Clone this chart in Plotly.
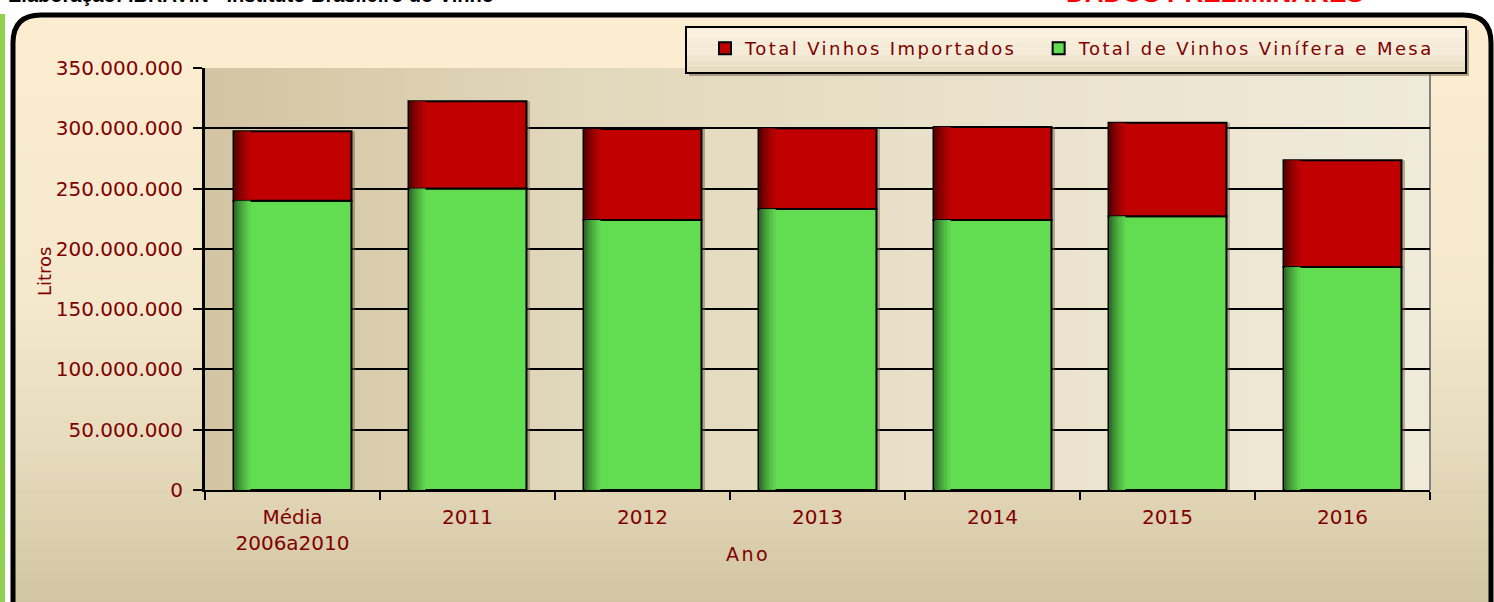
import plotly.graph_objects as go

# ---------------- data ----------------
categories = ["Média<br>2006a2010", "2011", "2012", "2013", "2014", "2015", "2016"]
vinhos_vinifera_mesa = [240_000_000, 250_000_000, 224_000_000, 233_000_000, 224_000_000, 227_000_000, 185_000_000]
vinhos_importados = [57_500_000, 72_500_000, 75_500_000, 67_000_000, 77_000_000, 77_500_000, 88_500_000]
totais = [a + b for a, b in zip(vinhos_vinifera_mesa, vinhos_importados)]

# ---------------- layout helpers ----------------
W, H = 1494, 602
L, R, T, B = 205, 1430, 68, 490
TXT = "#800000"
FONT = "DejaVu Sans"


def px(x):
    return (x - L) / (R - L)


def py(y):
    return (B - y) / (B - T)


def lerp(c1, c2, t):
    return tuple(round(a + (b - a) * t) for a, b in zip(c1, c2))


def multi_lerp(stops, v):
    for (p1, c1), (p2, c2) in zip(stops, stops[1:]):
        if v <= p2:
            return lerp(c1, c2, (v - p1) / (p2 - p1) if p2 > p1 else 0)
    return stops[-1][1]


def rgb(c):
    return "rgb(%d,%d,%d)" % c


def spaced(text, sp):
    return '<span style="letter-spacing:%.1fpx">%s</span>' % (sp, text)


shapes = []

# left green stripe
shapes.append(dict(type="rect", xref="paper", yref="paper", x0=px(0), x1=px(5), y0=py(640), y1=py(14),
                   fillcolor="#92D050", line=dict(width=0), layer="below"))

# outer rounded panel
ox0, oy0, ox1, oy1, rr = 13, 15, 1491, 650, 28


def panel_path(closed):
    p = (f"M {px(ox0)},{py(oy1)} L {px(ox0)},{py(oy0 + rr)} "
         f"Q {px(ox0)},{py(oy0)} {px(ox0 + rr)},{py(oy0)} "
         f"L {px(ox1 - rr)},{py(oy0)} Q {px(ox1)},{py(oy0)} {px(ox1)},{py(oy0 + rr)} "
         f"L {px(ox1)},{py(oy1)}")
    return p + (" Z" if closed else "")


shapes.append(dict(type="path", xref="paper", yref="paper", path=panel_path(True),
                   fillcolor="rgb(252,236,208)", line=dict(width=0), layer="below"))

outer_stops = [(60, (252, 236, 208)), (300, (244, 232, 205)), (450, (231, 219, 189)), (602, (210, 197, 162))]
step = 10
for y in range(60, 602, step):
    c = multi_lerp(outer_stops, y + step / 2)
    shapes.append(dict(type="rect", xref="paper", yref="paper", x0=px(ox0 + 2), x1=px(ox1 - 2),
                       y0=py(y + step + 0.5), y1=py(y), fillcolor=rgb(c), line=dict(width=0), layer="below"))

# plot area horizontal gradient
plot_stops = [(205, (211, 197, 162)), (600, (226, 216, 188)), (1000, (234, 226, 204)), (1430, (240, 234, 217))]
xs = 20
for x in range(L, R, xs):
    c = multi_lerp(plot_stops, x + xs / 2)
    shapes.append(dict(type="rect", xref="paper", yref="paper", x0=px(x), x1=px(min(x + xs + 0.5, R)),
                       y0=0, y1=1, fillcolor=rgb(c), line=dict(width=0), layer="below"))

# right border of plot area (grey)
shapes.append(dict(type="line", xref="paper", yref="paper", x0=1, x1=1, y0=0, y1=py(72),
                   line=dict(color="rgb(130,130,130)", width=2), layer="below"))

# outer border line
shapes.append(dict(type="path", xref="paper", yref="paper", path=panel_path(False),
                   fillcolor="rgba(0,0,0,0)", line=dict(color="black", width=5), layer="below"))

# legend box (shadow + gradient fill + border)
lx0, ly0, lx1, ly1 = 686, 27, 1466, 73
shapes.append(dict(type="rect", xref="paper", yref="paper", x0=px(lx0 + 3), x1=px(lx1 + 3),
                   y0=py(ly1 + 3), y1=py(ly0 + 3), fillcolor="rgba(120,105,80,0.55)",
                   line=dict(width=0), layer="above"))
lstops = [(0.0, (250, 242, 224)), (0.6, (243, 235, 214)), (1.0, (228, 218, 192))]
nb = 8
for i in range(nb):
    ya = ly0 + (ly1 - ly0) * i / nb
    yb = ly0 + (ly1 - ly0) * (i + 1) / nb
    c = multi_lerp(lstops, (i + 0.5) / nb)
    shapes.append(dict(type="rect", xref="paper", yref="paper", x0=px(lx0), x1=px(lx1),
                       y0=py(yb + 0.5), y1=py(ya), fillcolor=rgb(c), line=dict(width=0), layer="above"))
shapes.append(dict(type="rect", xref="paper", yref="paper", x0=px(lx0), x1=px(lx1),
                   y0=py(ly1), y1=py(ly0), fillcolor="rgba(0,0,0,0)",
                   line=dict(color="black", width=2), layer="above"))

# ---------------- traces ----------------
BW = 0.674
OFF = -BW / 2
fig = go.Figure()

# soft shadow behind bars
fig.add_trace(go.Bar(x=categories, y=totais, width=BW, offset=OFF + 0.02,
                     marker=dict(color="rgba(110,95,70,0.45)", line=dict(width=0)),
                     showlegend=False, hoverinfo="skip"))

fig.add_trace(go.Bar(x=categories, y=vinhos_vinifera_mesa, width=BW, offset=OFF,
                     name=spaced("Total de Vinhos Vinífera e Mesa", 2.4), legendrank=2,
                     marker=dict(color="#62DD52", line=dict(color="black", width=2))))
fig.add_trace(go.Bar(x=categories, y=vinhos_importados, base=vinhos_vinifera_mesa, width=BW, offset=OFF,
                     name=spaced("Total Vinhos Importados&nbsp;&nbsp;", 2.4), legendrank=1,
                     marker=dict(color="#C00000", line=dict(color="black", width=2))))

# left-edge shading strips on the bars
n_strips = 8
sw = 0.011
green_dark, green_base = (48, 112, 40), (98, 221, 82)
red_dark, red_base = (92, 0, 0), (192, 0, 0)
for i in range(n_strips):
    t = i / n_strips
    off = OFF + 0.007 + i * sw
    fig.add_trace(go.Bar(x=categories, y=vinhos_vinifera_mesa, width=sw + 0.002, offset=off,
                         marker=dict(color=rgb(lerp(green_dark, green_base, t ** 0.8)), line=dict(width=0)),
                         showlegend=False, hoverinfo="skip"))
    fig.add_trace(go.Bar(x=categories, y=[v - 1_000_000 for v in vinhos_importados],
                         base=[b + 1_000_000 for b in vinhos_vinifera_mesa], width=sw + 0.002, offset=off,
                         marker=dict(color=rgb(lerp(red_dark, red_base, t ** 0.8)), line=dict(width=0)),
                         showlegend=False, hoverinfo="skip"))

# ---------------- layout ----------------
annotations = [
    dict(text=spaced("Ano", 2.5), x=px(748), y=py(554), xref="paper", yref="paper", showarrow=False,
         xanchor="center", yanchor="middle", font=dict(family=FONT, size=19, color=TXT)),
    dict(text="Litros", x=px(44), y=py(272), xref="paper", yref="paper", showarrow=False, textangle=-90,
         xanchor="center", yanchor="middle", font=dict(family=FONT, size=18, color=TXT)),
    dict(text="<b>Elaboração: IBRAVIN - Instituto Brasileiro do Vinho</b>", x=px(6), y=py(8),
         xref="paper", yref="paper", showarrow=False, xanchor="left", yanchor="bottom",
         font=dict(family="Liberation Sans", size=20, color="black")),
    dict(text="<b>DADOS PRELIMINARES</b>", x=px(1215), y=py(10),
         xref="paper", yref="paper", showarrow=False, xanchor="center", yanchor="bottom",
         font=dict(family="Liberation Sans", size=26, color="#FF0000")),
]

fig.update_layout(
    width=W, height=H,
    margin=dict(l=L, r=W - R, t=T, b=H - B, pad=0, autoexpand=False),
    paper_bgcolor="white",
    plot_bgcolor="rgba(0,0,0,0)",
    barmode="overlay",
    separators=",.",
    shapes=shapes,
    annotations=annotations,
    font=dict(family=FONT, color=TXT),
    legend=dict(orientation="h", x=px(705), y=py(30), xanchor="left", yanchor="top",
                bgcolor="rgba(0,0,0,0)", borderwidth=0,
                font=dict(family=FONT, size=18, color=TXT),
                itemsizing="constant"),
    xaxis=dict(type="category", showline=True, linecolor="black", linewidth=2,
               ticks="outside", tickson="boundaries", ticklen=8, tickwidth=2, tickcolor="black",
               ticklabelstandoff=8,
               tickfont=dict(family=FONT, size=20, color=TXT), showgrid=False, fixedrange=True),
    yaxis=dict(range=[0, 350_000_000], tick0=0, dtick=50_000_000, tickformat=",d",
               showgrid=True, gridcolor="black", gridwidth=2, zeroline=False,
               showline=True, linecolor="black", linewidth=3,
               ticks="outside", ticklen=9, tickwidth=2, tickcolor="black", ticklabelstandoff=6,
               tickfont=dict(family=FONT, size=20, color=TXT), fixedrange=True),
)

fig.write_html("out.html", config={"displayModeBar": False},
               post_script="document.body.style.margin='0';")
